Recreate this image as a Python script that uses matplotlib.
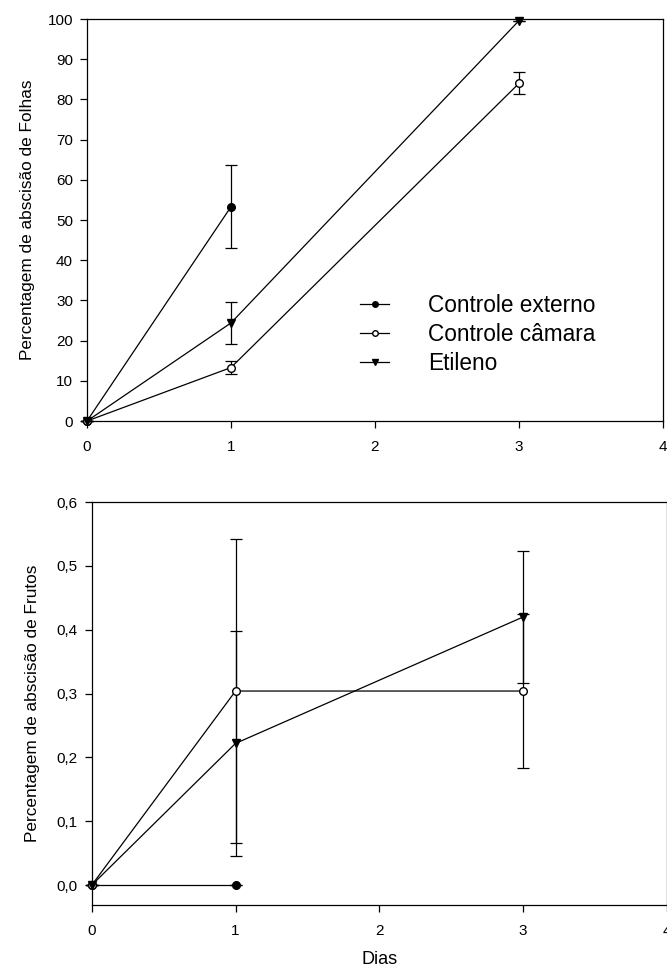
import matplotlib.pyplot as plt
from matplotlib.lines import Line2D

plt.rcParams['font.family'] = ['Liberation Sans', 'DejaVu Sans']

# Folhas (top panel)
dias_ext = [0, 1]
folhas_ext = [0, 53.3]
folhas_ext_err = [0, 10.3]

dias_cam = [0, 1, 3]
folhas_cam = [0, 13.3, 84.0]
folhas_cam_err = [0, 1.7, 2.7]

dias_eti = [0, 1, 3]
folhas_eti = [0, 24.4, 99.6]
folhas_eti_err = [0, 5.2, 0]

# Frutos (bottom panel)
frutos_ext = [0, 0]
frutos_ext_err = [0, 0]
frutos_cam = [0, 0.304, 0.304]
frutos_cam_err = [0, 0.238, 0.121]
frutos_eti = [0, 0.222, 0.420]
frutos_eti_err = [0, 0.176, 0.103]

labels = ['Controle externo', 'Controle câmara', 'Etileno']

fig = plt.figure(figsize=(6.67, 9.71), dpi=100)
ax1 = fig.add_axes([0.1304, 0.5664, 0.8636, 0.4140])
ax2 = fig.add_axes([0.1375, 0.0680, 0.8625, 0.4150])


def draw(ax, ext, ext_err, cam, cam_err, eti, eti_err):
    kw = dict(color='black', lw=0.9, capsize=4.5, elinewidth=0.9, capthick=0.9,
              ms=5.5, clip_on=False)
    ax.errorbar(dias_ext, ext, yerr=ext_err, marker='o', mfc='black',
                mec='black', **kw)
    ax.errorbar(dias_cam, cam, yerr=cam_err, marker='o', mfc='white',
                mec='black', **kw)
    ax.errorbar(dias_eti, eti, yerr=eti_err, marker='v', mfc='black',
                mec='black', **kw)
    ax.set_xlim(0, 4)
    ax.set_xticks([0, 1, 2, 3, 4])
    ax.tick_params(direction='out', length=5, labelsize=11, width=0.9, pad=5)
    ax.xaxis.set_tick_params(pad=9)
    for s in ax.spines.values():
        s.set_linewidth(0.9)


draw(ax1, folhas_ext, folhas_ext_err, folhas_cam, folhas_cam_err,
     folhas_eti, folhas_eti_err)
ax1.set_ylim(0, 100)
ax1.set_yticks(range(0, 101, 10))
ax1.set_ylabel('Percentagem de abscisão de Folhas', fontsize=12.4)
ax1.yaxis.set_label_coords(-0.090, 0.5)

handles = [
    Line2D([], [], color='black', lw=0.9, marker='o', mfc='black', mec='black', ms=4),
    Line2D([], [], color='black', lw=0.9, marker='o', mfc='white', mec='black', ms=4),
    Line2D([], [], color='black', lw=0.9, marker='v', mfc='black', mec='black', ms=4.5),
]
ax1.legend(handles, labels, loc='upper left', bbox_to_anchor=(0.474, 0.315),
           frameon=False, fontsize=16.3, handlelength=1.3, handletextpad=1.7,
           labelspacing=0.25, borderpad=0, borderaxespad=0)

draw(ax2, frutos_ext, frutos_ext_err, frutos_cam, frutos_cam_err,
     frutos_eti, frutos_eti_err)
ax2.set_ylim(-0.031, 0.6)
ax2.set_yticks([0, 0.1, 0.2, 0.3, 0.4, 0.5, 0.6])
ax2.set_yticklabels(['0,0', '0,1', '0,2', '0,3', '0,4', '0,5', '0,6'])
ax2.set_ylabel('Percentagem de abscisão de Frutos', fontsize=12.4)
ax2.yaxis.set_label_coords(-0.090, 0.5)
ax2.set_xlabel('Dias', fontsize=13)
ax2.xaxis.set_label_coords(0.5, -0.115)

fig.savefig('out.png', dpi=100)
